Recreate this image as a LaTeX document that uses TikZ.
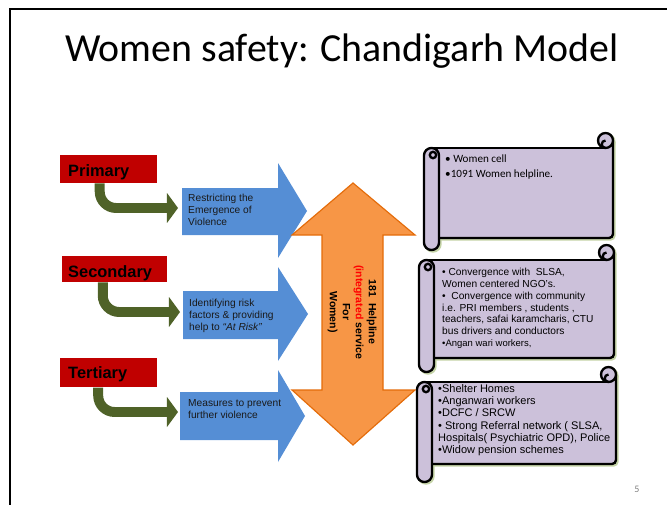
\documentclass[tikz,border=0pt]{standalone}
\usepackage{fontspec}
\setmainfont{Liberation Sans}
\newfontfamily\calfont{Carlito}
\definecolor{redc}{HTML}{C00000}
\definecolor{greenc}{HTML}{4F6228}
\definecolor{bluec}{HTML}{558ED5}
\definecolor{orangec}{HTML}{F79646}
\definecolor{orangeline}{HTML}{E46C0A}
\definecolor{scrollfill}{HTML}{CCC1DA}
\definecolor{shadowc}{HTML}{C4D3A6}
\definecolor{textc}{HTML}{1A1A1A}
\newcommand\scrollbody[6]{%
 \path[fill=scrollfill, rounded corners=3.4pt] ({#1+7.5},#2) -- ({#3-7.5},#2) -- ({#3-7.5},{#2-7.5}) -- (#3,{#2-7.5}) -- (#3,#4) -- ({#1+7.5},#4) -- cycle;
 \draw[#6] ({#1+7.5},#2) -- ({#3-7.5},#2);
 \draw[#6, rounded corners=3.4pt] (#3,{#2-7.5}) -- (#3,#4) -- ({#1+7.5},#4);
 \draw[#6, fill=scrollfill] ({#3-7.5},{#2-7.5}) circle (7.5);
 \draw[#6] ({#3-7.5},#2) arc[start angle=90, end angle=270, radius=3.75];
 \draw[#6, fill=scrollfill, rounded corners=6.3pt] (#1,#2) rectangle ({#1+15},#5);
 \draw[#6] ({#1+9},{#2+7}) circle (3.2);
}
\newcommand\drawscroll[5]{%
 \begin{scope}[shift={(1.5,1.5)}]
  \scrollbody{#1}{#2}{#3}{#4}{#5}{shadowline}
 \end{scope}
 \scrollbody{#1}{#2}{#3}{#4}{#5}{scrollline}
}
\begin{document}
\begin{tikzpicture}[x=0.03cm,y=-0.03cm,
  redbox/.style={fill=redc, draw=none, inner sep=0, anchor=north west},
  redlabel/.style={anchor=base west, inner sep=0, font=\bfseries\fontsize{14}{16}\selectfont},
  greenstem/.style={draw=greenc, line width=8.5pt, rounded corners=14pt},
  greenhead/.style={fill=greenc},
  bluearrow/.style={fill=bluec},
  bluetext/.style={anchor=north west, inner sep=0, align=left, text=textc, font=\fontsize{8.7}{10.2}\selectfont},
  orangearrow/.style={fill=orangec, draw=orangeline, line width=1pt, line join=miter},
  scrollline/.style={draw=black, line width=2pt},
  shadowline/.style={draw=shadowc, line width=2pt},
  scrolltext/.style={anchor=north west, inner sep=0, align=left, text=black}
]
\useasboundingbox (0,0) rectangle (667,505);
\draw[line width=1.7pt] (10,510) -- (10,9) -- (670,9);

\node[font=\calfont\fontsize{34}{40}\selectfont, anchor=base, inner sep=0] (title) at (342,61) {Women safety: Chandigarh Model};

% blue arrows
\path[bluearrow] (182,188) -- (278,188) -- (278,163) -- (307,211) -- (278,258) -- (278,235) -- (182,235) -- cycle;
\path[bluearrow] (183,291) -- (278,291) -- (278,267) -- (308,314) -- (278,361) -- (278,339) -- (183,339) -- cycle;
\path[bluearrow] (180,392) -- (278,392) -- (278,370) -- (305,416) -- (278,462) -- (278,440) -- (180,440) -- cycle;
\node[bluetext] (bt1) at (188,194) {Restricting the\\Emergence of\\Violence};
\node[bluetext] (bt2) at (189,299) {Identifying risk\\factors \& providing\\help to \textit{“At Risk”}};
\node[bluetext] (bt3) at (188,399) {Measures to prevent\\further violence};

% red boxes
\node[redbox, minimum width=82.8pt, minimum height=23.9pt] (rp) at (60,155) {};
\node[redbox, minimum width=89.6pt, minimum height=22.2pt] (rs) at (62,256) {};
\node[redbox, minimum width=82.8pt, minimum height=24.8pt] (rt) at (60,358) {};
\node[redlabel] (lp) at (68,176) {Primary};
\node[redlabel] (ls) at (68,277) {Secondary};
\node[redlabel] (lt) at (68,378) {Tertiary};

% green bent arrows
\coordinate (gp) at (178,208);
\coordinate (gs) at (180,312);
\coordinate (gt) at (178,412);
\draw[greenstem] ([xshift=-7.7pt]rp.south) |- ([xshift=-9.4pt]gp);
\fill[greenhead] ([xshift=-9.4pt,yshift=12.8pt]gp) -- (gp) -- ([xshift=-9.4pt,yshift=-12.8pt]gp) -- cycle;
\draw[greenstem] ([xshift=-10.2pt]rs.south) |- ([xshift=-9.4pt]gs);
\fill[greenhead] ([xshift=-9.4pt,yshift=12.8pt]gs) -- (gs) -- ([xshift=-9.4pt,yshift=-12.8pt]gs) -- cycle;
\draw[greenstem] ([xshift=-9pt]rt.south) |- ([xshift=-9.4pt]gt);
\fill[greenhead] ([xshift=-9.4pt,yshift=12.8pt]gt) -- (gt) -- ([xshift=-9.4pt,yshift=-12.8pt]gt) -- cycle;

% orange double arrow
\path[orangearrow] (353,183) -- (415,235) -- (383,235) -- (383,390) -- (415,390) -- (353,445) -- (292,390) -- (322,390) -- (322,235) -- (292,235) -- cycle;
\node[rotate=-90, align=center, inner sep=0, font=\bfseries\fontsize{9}{11.1}\selectfont] (help) at (352,312) {181~~Helpline\\\textcolor{red}{(integrated} service\\For\\Women)};

% scrolls
\drawscroll{424}{148}{613}{238}{250}
\drawscroll{419}{260}{614}{358}{372}
\drawscroll{417}{382}{616}{464}{482}

\node[scrolltext, font=\calfont\fontsize{9.5}{12}\selectfont] (s1) at (445,155) {• Women cell\\•1091 Women helpline.};
\node[scrolltext, font=\fontsize{8.7}{10.1}\selectfont] (s2) at (442,268) {• Convergence with~~SLSA,\\Women centered NGO’s.\\•~~Convergence with community\\i.e. PRI members , students ,\\teachers, safai karamcharis, CTU\\bus drivers and conductors\\{\fontsize{8.1}{10.1}\selectfont •Angan wari workers,}};
\node[scrolltext, font=\fontsize{9.4}{10.5}\selectfont] (s3) at (438,384) {•Shelter Homes\\•Anganwari workers\\•DCFC / SRCW\\• Strong Referral network ( SLSA,\\Hospitals( Psychiatric OPD), Police\\•Widow pension schemes};

\node[font=\calfont\fontsize{8.5}{10}\selectfont, text=gray, inner sep=0] (pg) at (637,489) {5};
\end{tikzpicture}
\end{document}
